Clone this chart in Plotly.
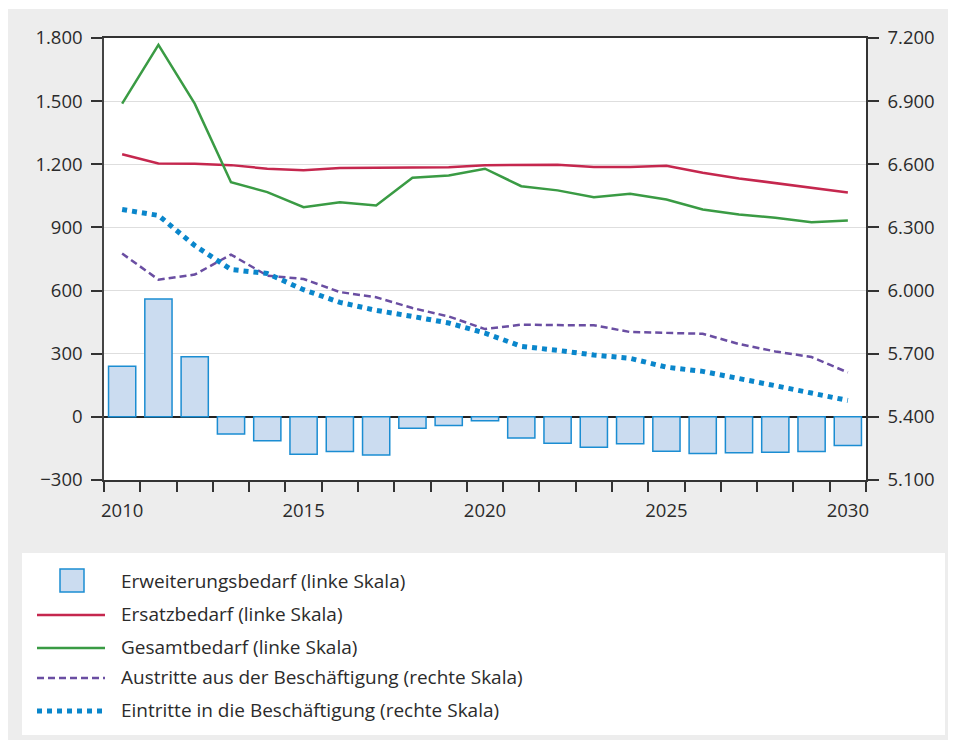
import plotly.graph_objects as go

# Data (Tsd. Personen)
years = [2010, 2011, 2012, 2013, 2014, 2015, 2016, 2017, 2018, 2019, 2020,
         2021, 2022, 2023, 2024, 2025, 2026, 2027, 2028, 2029, 2030]
erweiterung = [240, 560, 285, -82, -113, -178, -165, -181, -54, -41, -19,
               -101, -125, -144, -128, -163, -174, -171, -168, -165, -136]
ersatz = [1248, 1204, 1203, 1196, 1179, 1172, 1182, 1183, 1187, 1186, 1196,
          1198, 1198, 1187, 1187, 1193, 1160, 1133, 1110, 1088, 1066]
gesamt = [1488, 1767, 1488, 1115, 1068, 996, 1020, 1004, 1136, 1147, 1179,
          1096, 1076, 1044, 1060, 1033, 985, 961, 946, 925, 933]
austritte = [6176, 6052, 6076, 6171, 6071, 6055, 5993, 5968, 5917, 5877, 5817,
             5838, 5836, 5835, 5803, 5798, 5795, 5746, 5711, 5684, 5611]
eintritte = [6385, 6357, 6214, 6100, 6081, 6004, 5944, 5906, 5877, 5846, 5798,
             5735, 5716, 5694, 5678, 5636, 5616, 5579, 5548, 5513, 5478]
year_labels = [2010, 2015, 2020, 2025, 2030]

names = ['Erweiterungsbedarf (linke Skala)', 'Ersatzbedarf (linke Skala)',
         'Gesamtbedarf (linke Skala)', 'Austritte aus der Beschäftigung (rechte Skala)',
         'Eintritte in die Beschäftigung (rechte Skala)']

BAR_FILL = '#cbdcf0'
BAR_LINE = '#1b8dd2'
RED = '#c5274e'
GREEN = '#3a9b44'
PURPLE = '#6a4ea2'
BLUE = '#0a86cb'
TXT = '#2b2b2b'
FONT = 'Open Sans'

# the page body adds an 8px margin, so the figure is 8px smaller
OFF = 8
W, H = 956 - OFF, 740 - OFF
L, R, T, B = 104 - OFF, 90, 38 - OFF, 260
pw, ph = W - L - R, H - T - B


def px(x):
    # page x -> paper coordinate
    return (x - OFF - L) / pw


def py(y):
    # page y -> paper coordinate
    return (H - B - (y - OFF)) / ph


fig = go.Figure()
fig.add_trace(go.Bar(x=years, y=erweiterung, name=names[0], width=0.75,
                     marker=dict(color=BAR_FILL, line=dict(color=BAR_LINE, width=1.5))))
fig.add_trace(go.Scatter(x=years, y=ersatz, name=names[1], mode='lines',
                         line=dict(color=RED, width=2.5)))
fig.add_trace(go.Scatter(x=years, y=gesamt, name=names[2], mode='lines',
                         line=dict(color=GREEN, width=2.5)))
fig.add_trace(go.Scatter(x=years, y=austritte, name=names[3], mode='lines', yaxis='y2',
                         line=dict(color=PURPLE, width=2.5, dash='7px,4px')))
fig.add_trace(go.Scatter(x=years, y=eintritte, name=names[4], mode='lines', yaxis='y2',
                         line=dict(color=BLUE, width=5, dash='5px,5px')))

axis_font = dict(family=FONT, size=18.5, color=TXT)
fig.update_layout(
    width=W, height=H,
    margin=dict(l=L, r=R, t=T, b=B, pad=0),
    paper_bgcolor='white', plot_bgcolor='white',
    separators=',.',
    showlegend=False,
    font=dict(family=FONT, size=18, color=TXT),
    xaxis=dict(range=[2009.5, 2030.5], tickvals=year_labels, ticks='',
               showline=True, linecolor='#333333', linewidth=1.5, mirror=True,
               showgrid=False, zeroline=False, tickfont=axis_font,
               ticklabelstandoff=13,
               minor=dict(tick0=2009.5, dtick=1, ticks='outside', ticklen=10,
                          tickwidth=1.5, tickcolor='#333333', showgrid=False)),
    yaxis=dict(range=[-300, 1800], dtick=300, tick0=0, tickformat=',d',
               showline=True, linecolor='#444444', linewidth=1.5,
               ticks='outside', ticklen=11, tickwidth=1.5, tickcolor='#333333',
               showgrid=True, gridcolor='#dedede', gridwidth=1,
               zeroline=True, zerolinecolor='#222222', zerolinewidth=1.5,
               tickfont=axis_font, ticklabelstandoff=5),
    yaxis2=dict(range=[5100, 7200], dtick=300, tick0=5100, tickformat=',d',
                overlaying='y', side='right',
                showline=True, linecolor='#333333', linewidth=1.5,
                ticks='outside', ticklen=11, tickwidth=1.5, tickcolor='#333333',
                showgrid=False, zeroline=False, tickfont=axis_font,
                ticklabelstandoff=5),
)

shapes = [
    # grey panel, white plot area and white legend box
    dict(type='rect', xref='paper', yref='paper', layer='below',
         x0=px(6), x1=px(956), y0=py(9), y1=py(740),
         fillcolor='#ededed', line=dict(width=0)),
    dict(type='rect', xref='paper', yref='paper', layer='below',
         x0=0, x1=1, y0=0, y1=1, fillcolor='white', line=dict(width=0)),
    dict(type='rect', xref='paper', yref='paper', layer='below',
         x0=px(22), x1=px(945), y0=py(553), y1=py(735),
         fillcolor='white', line=dict(width=0)),
    # legend keys
    dict(type='rect', xref='paper', yref='paper',
         x0=px(60), x1=px(84), y0=py(569), y1=py(592),
         fillcolor=BAR_FILL, line=dict(color=BAR_LINE, width=1.5)),
]
key_rows = [(RED, 2.5, 'solid', 615), (GREEN, 2.5, 'solid', 648),
            (PURPLE, 2.5, '7px,4px', 678), (BLUE, 5, '5px,5px', 711)]
for color, width, dash, y in key_rows:
    shapes.append(dict(type='line', xref='paper', yref='paper',
                       x0=px(37), x1=px(105), y0=py(y), y1=py(y),
                       line=dict(color=color, width=width, dash=dash)))
fig.update_layout(shapes=shapes)

text_rows = [581, 614, 647, 677, 710]
for name, y in zip(names, text_rows):
    fig.add_annotation(xref='paper', yref='paper', x=px(119), y=py(y),
                       xanchor='left', yanchor='middle', showarrow=False,
                       text=name, font=dict(family=FONT, size=19, color=TXT))

fig.write_html("out.html")
